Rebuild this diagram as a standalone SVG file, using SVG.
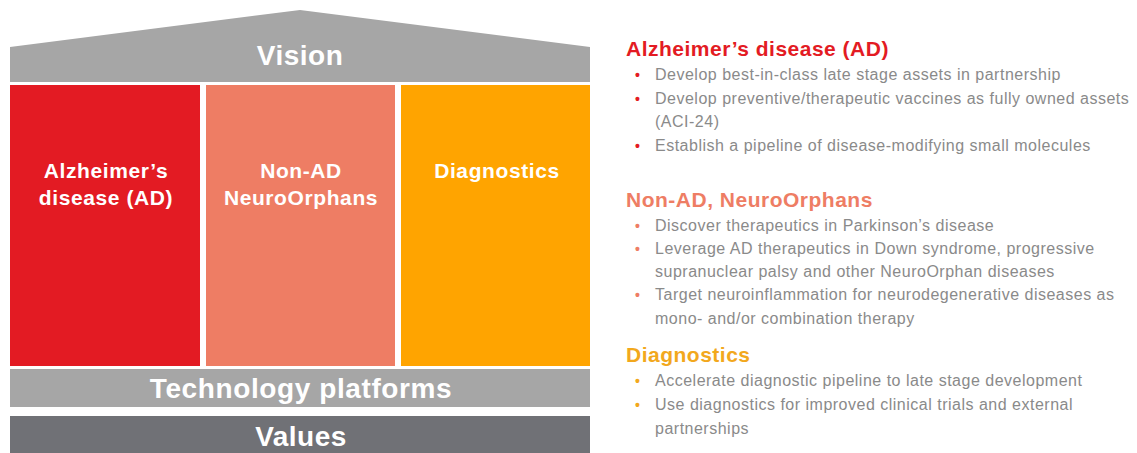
<svg xmlns="http://www.w3.org/2000/svg" width="1137" height="453" viewBox="0 0 1137 453">
<style>
.band{font-family:"Liberation Sans",Arial,sans-serif;font-weight:bold;fill:#fff;text-anchor:middle;font-size:28px;letter-spacing:0.5px}
.col{font-family:"Liberation Sans",Arial,sans-serif;font-weight:bold;fill:#fff;text-anchor:middle;font-size:21px;letter-spacing:0.6px}
.h{font-family:"Liberation Sans",Arial,sans-serif;font-weight:bold;font-size:21px;letter-spacing:0.5px}
.b{font-family:"Liberation Sans",Arial,sans-serif;font-size:16px;letter-spacing:0.5px;fill:#8a8a8a}
.dot{font-family:"Liberation Sans",Arial,sans-serif;font-size:14px;font-weight:bold}
</style>
<rect width="1137" height="453" fill="#fff"/>
<g id="vision">
<polygon points="10,47 300,10 590,47 590,82 10,82" fill="#a6a6a6"/>
<text class="band" x="300" y="65">Vision</text>
</g>
<g id="col-ad">
<rect x="10" y="85" width="190" height="281" fill="#e31b23"/>
<text class="col" x="106" y="178">Alzheimer’s</text>
<text class="col" x="106" y="205">disease (AD)</text>
</g>
<g id="col-nonad">
<rect x="206" y="85" width="189" height="281" fill="#ee7d64"/>
<text class="col" x="301" y="178">Non-AD</text>
<text class="col" x="301" y="205">NeuroOrphans</text>
</g>
<g id="col-diag">
<rect x="401" y="85" width="189" height="281" fill="#ffa400"/>
<text class="col" x="497" y="178">Diagnostics</text>
</g>
<g id="tech">
<rect x="10" y="369" width="580" height="38" fill="#a6a6a6"/>
<text class="band" x="301" y="398" style="letter-spacing:0.6px">Technology platforms</text>
</g>
<g id="values">
<rect x="10" y="416" width="580" height="37" fill="#707176"/>
<text class="band" x="301" y="446">Values</text>
</g>
<g id="connectors"></g>
<g id="text-ad">
<text class="h" x="626" y="56" fill="#e31b23">Alzheimer’s disease (AD)</text>
<text class="dot" x="635" y="80" fill="#e31b23">•</text>
<text class="b" x="655" y="80">Develop best-in-class late stage assets in partnership</text>
<text class="dot" x="635" y="104" fill="#e31b23">•</text>
<text class="b" x="655" y="104">Develop preventive/therapeutic vaccines as fully owned assets</text>
<text class="b" x="655" y="127">(ACI-24)</text>
<text class="dot" x="635" y="151" fill="#e31b23">•</text>
<text class="b" x="655" y="151">Establish a pipeline of disease-modifying small molecules</text>
</g>
<g id="text-nonad">
<text class="h" x="626" y="207" fill="#ee7d64">Non-AD, NeuroOrphans</text>
<text class="dot" x="635" y="231" fill="#ee7d64">•</text>
<text class="b" x="655" y="231">Discover therapeutics in Parkinson’s disease</text>
<text class="dot" x="635" y="254" fill="#ee7d64">•</text>
<text class="b" x="655" y="254">Leverage AD therapeutics in Down syndrome, progressive</text>
<text class="b" x="655" y="277">supranuclear palsy and other NeuroOrphan diseases</text>
<text class="dot" x="635" y="300" fill="#ee7d64">•</text>
<text class="b" x="655" y="300">Target neuroinflammation for neurodegenerative diseases as</text>
<text class="b" x="655" y="324">mono- and/or combination therapy</text>
</g>
<g id="text-diag">
<text class="h" x="626" y="362" fill="#f2a81d">Diagnostics</text>
<text class="dot" x="635" y="386" fill="#f2a81d">•</text>
<text class="b" x="655" y="386">Accelerate diagnostic pipeline to late stage development</text>
<text class="dot" x="635" y="410" fill="#f2a81d">•</text>
<text class="b" x="655" y="410">Use diagnostics for improved clinical trials and external</text>
<text class="b" x="655" y="434">partnerships</text>
</g>
</svg>
